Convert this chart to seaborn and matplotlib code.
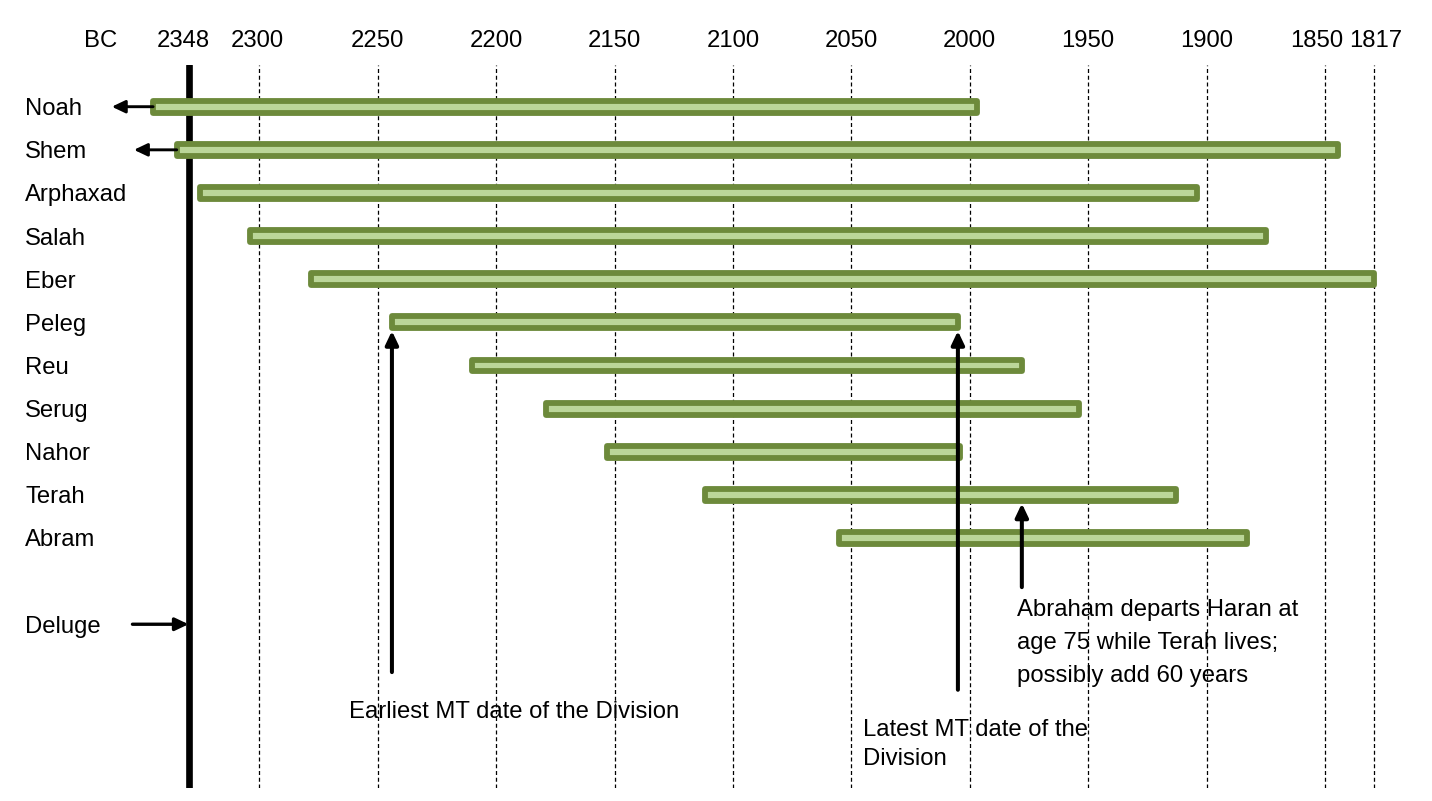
import numpy as np
import pandas as pd
import matplotlib
matplotlib.use("Agg")
import matplotlib.pyplot as plt
import matplotlib.transforms as mtransforms
import seaborn as sns

# ---------------- data (years BC) ----------------
names = ["Noah", "Shem", "Arphaxad", "Salah", "Eber", "Peleg",
         "Reu", "Serug", "Nahor", "Terah", "Abram"]
start_bc = [2372, 2356, 2340, 2306, 2278, 2244, 2210, 2179, 2153, 2112, 2055]
end_bc = [1997, 1841, 1904, 1875, 1817, 2005, 1978, 1954, 2004, 1913, 1883]
tick_years = [2348, 2300, 2250, 2200, 2150, 2100, 2050, 2000, 1950, 1900, 1850, 1817]
deluge_year = 2348
earliest_division = 2244
latest_division = 2005
haran_departure = 1978
noah_arrow_tip = 2400
shem_arrow_tip = 2385
deluge_arrow_tail = 2386

# ---------------- axis scale of the reference (uneven tick spacing) ----------------
tick_pos = [-0.598, 0, 1, 2, 3, 4, 5, 6, 7, 8, 9, 9.412]
_kx = np.array(tick_years, float)[::-1]          # increasing years
_ku = -np.array(tick_pos, float)[::-1]           # increasing scale units


def _pw(x, xp, fp):
    x = np.asarray(x, float)
    y = np.interp(x, xp, fp)
    sl = (fp[1] - fp[0]) / (xp[1] - xp[0])
    sr = (fp[-1] - fp[-2]) / (xp[-1] - xp[-2])
    y = np.where(x < xp[0], fp[0] + (x - xp[0]) * sl, y)
    y = np.where(x > xp[-1], fp[-1] + (x - xp[-1]) * sr, y)
    return y


def fwd(yr):
    return _pw(yr, _kx, _ku)


def inv(v):
    return _pw(v, _ku, _kx)


DARK = "#6D8A3B"
LIGHT = "#BBD699"
FS = 17.2

sns.set_theme(style="white")
plt.rcParams["font.family"] = ["Liberation Sans", "DejaVu Sans"]

fig = plt.figure(figsize=(14.32, 8.01), dpi=100)
ax = fig.add_axes([0, 13 / 801, 1, 723 / 801])

df = pd.DataFrame({
    "name": names,
    "start": start_bc,
    "span": np.array(end_bc) - np.array(start_bc),
})

sns.barplot(data=df, x="span", y="name", order=names, orient="y",
            left=df["start"].to_numpy(), width=0.275, color=LIGHT,
            saturation=1, edgecolor=DARK, linewidth=4.2, joinstyle="round",
            errorbar=None, zorder=3, ax=ax)

ax.set_xscale("function", functions=(fwd, inv))
# left edge of the picture = 2.19 grid steps before 2300, right edge = 9.904 after
ax.set_xlim(float(inv(2.190)), float(inv(-9.904)))
ax.set_ylim(15.797, -0.967)
ax.set_xlabel("")
ax.set_ylabel("")

ax.set_xticks(tick_years, labels=[str(t) for t in tick_years])
ax.set_yticks(list(range(len(names))) + [12], labels=names + ["Deluge"])

for s in ax.spines.values():
    s.set_visible(False)

ax.xaxis.tick_top()
ax.tick_params(axis="x", top=True, labeltop=True, bottom=False,
               labelbottom=False, length=0, pad=9.5, labelsize=FS,
               labelcolor="black")
ax.tick_params(axis="y", left=False, length=0, pad=-18, labelsize=FS,
               labelcolor="black")
for t in ax.get_yticklabels():
    t.set_horizontalalignment("left")

ax.grid(False)
ax.grid(True, axis="x", color="black", linestyle=(0, (3.2, 2.2)), linewidth=0.9)
ax.set_axisbelow(True)

# Deluge line
ax.axvline(deluge_year, color="black", lw=4.8, zorder=2)


def arrow(xy, xytext, lw):
    ax.annotate("", xy=xy, xytext=xytext,
                arrowprops=dict(arrowstyle="-|>,head_length=0.8,head_width=0.38",
                                color="black", lw=lw, shrinkA=0, shrinkB=0,
                                mutation_scale=10),
                zorder=5)


arrow((noah_arrow_tip, 0), (start_bc[0], 0), 2.1)
arrow((shem_arrow_tip, 1), (start_bc[1], 1), 2.1)
arrow((deluge_year, 12), (deluge_arrow_tail, 12), 2.4)
arrow((earliest_division, 5.2), (earliest_division, 13.11), 2.9)
arrow((latest_division, 5.2), (latest_division, 13.52), 2.9)
arrow((haran_departure, 9.2), (haran_departure, 11.14), 2.9)

ax.text(2262, 14.03, "Earliest MT date of the Division", ha="left",
        va="center", fontsize=FS, color="black")
ax.text(2045, 14.79, "Latest MT date of the\nDivision", ha="left",
        va="center", fontsize=FS, color="black", linespacing=1.37)
ax.text(1980, 12.43, "Abraham departs Haran at\nage 75 while Terah lives;\npossibly add 60 years",
        ha="left", va="center", fontsize=FS, color="black", linespacing=1.65)

fig.text(100.8 / 1432, 1 - 46.7 / 801, "BC", ha="center", va="baseline",
         fontsize=FS, color="black")

# small horizontal nudges of crowded tick labels (pixels)
shifts = {2348: -4.7, 2300: -1.5, 1850: -8.5, 1817: 2.2}
for yr, tk in zip(tick_years, ax.xaxis.get_major_ticks()):
    if yr in shifts:
        tk.label2.set_transform(tk.label2.get_transform() +
                                mtransforms.ScaledTranslation(shifts[yr] / 100, 0,
                                                              fig.dpi_scale_trans))

fig.savefig("out.png", dpi=100, facecolor="white")
